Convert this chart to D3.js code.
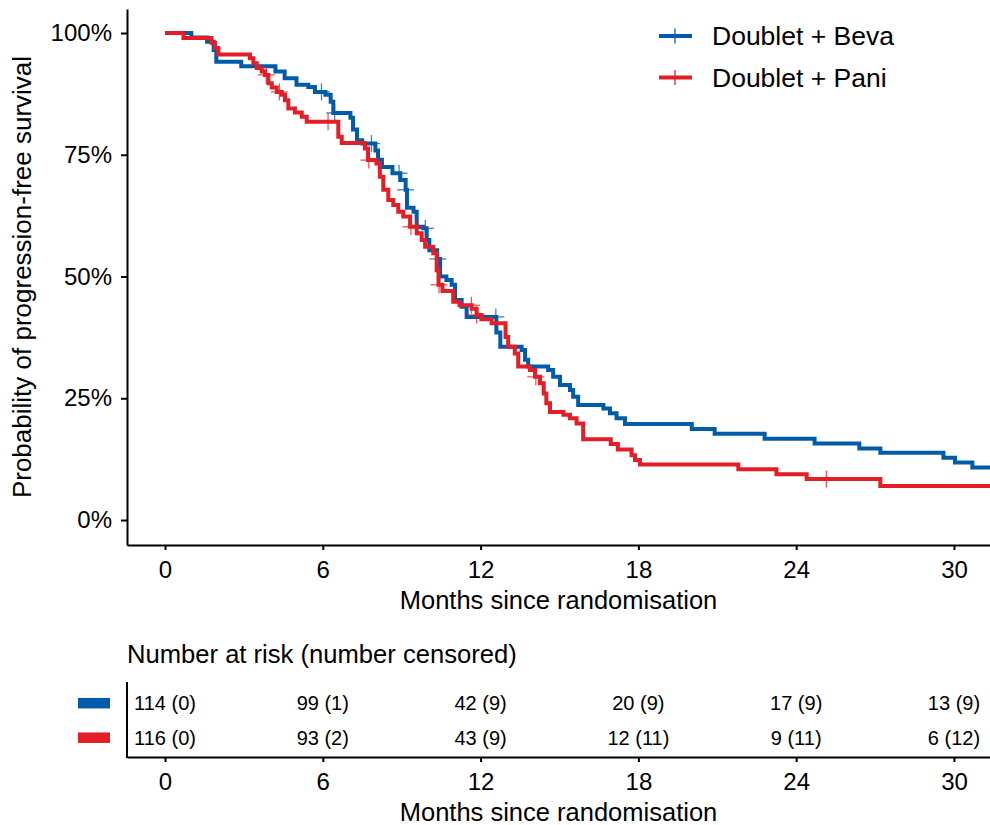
<!DOCTYPE html>
<html>
<head>
<meta charset="utf-8">
<script src="https://cdn.jsdelivr.net/npm/d3@7"></script>
<style>
  body { margin: 0; background: #fff; }
  svg { display: block; font-family: "Liberation Sans", Arial, sans-serif; }
</style>
</head>
<body>
<div id="chart"></div>
<script>
// ---- data ----------------------------------------------------------
const groups = ['Doublet + Beva', 'Doublet + Pani'];
const colours = ['#005BAB', '#E41E26'];

// [month, survival %] – value holds from that month onwards
const bevaSteps = [
  [0, 100], [1.0, 99.1], [1.6, 98.2], [1.85, 96.5], [1.95, 94.1], [2.9, 93.2],
  [4.2, 92.1], [4.55, 90.7], [5.0, 89.4], [5.45, 88.9], [5.7, 87.9], [6.1, 87.3],
  [6.3, 85.9], [6.4, 83.6], [7.05, 82.6], [7.15, 80.2], [7.3, 78.0], [7.5, 77.3],
  [8.0, 75.9], [8.1, 74.0], [8.25, 72.5], [8.65, 71.2], [8.95, 69.8], [9.15, 67.8],
  [9.2, 64.1], [9.45, 63.3], [9.57, 60.2], [9.82, 59.9], [9.95, 57.5], [10.05, 55.4],
  [10.35, 53.6], [10.46, 50.0], [10.7, 49.3], [10.9, 48.3], [11.03, 45.2], [11.28, 43.8],
  [11.47, 41.7], [12.6, 38.5], [12.75, 35.6], [13.56, 34.9], [13.69, 32.9], [13.81, 31.5],
  [14.57, 30.8], [14.76, 29.4], [15.02, 27.7], [15.4, 26.7], [15.52, 25.3], [15.71, 23.6],
  [16.67, 22.9], [16.92, 21.9], [17.17, 20.9], [17.49, 19.7], [20.03, 18.7], [20.9, 17.7],
  [22.8, 16.7], [24.7, 15.7], [26.4, 14.7], [27.2, 13.8], [29.6, 12.8], [30.04, 11.8],
  [30.7, 10.8], [31.4, 10.8]
];
const paniSteps = [
  [0, 100], [0.7, 99.0], [1.77, 98.0], [1.9, 96.9], [2.03, 95.6], [3.23, 94.8],
  [3.36, 93.8], [3.49, 92.8], [3.68, 92.1], [3.8, 91.4], [3.93, 89.7], [4.06, 88.8],
  [4.25, 87.9], [4.44, 87.3], [4.56, 86.2], [4.69, 84.5], [4.94, 83.7], [5.2, 82.8],
  [5.39, 81.8], [6.59, 78.7], [6.72, 77.4], [7.6, 76.3], [7.72, 73.9], [8.04, 73.2],
  [8.17, 70.5], [8.3, 67.8], [8.49, 65.7], [8.68, 64.7], [8.87, 63.3], [9.06, 62.3],
  [9.32, 60.2], [9.57, 58.9], [9.76, 57.5], [9.89, 56.1], [10.2, 54.8], [10.33, 51.3],
  [10.4, 48.3], [10.55, 47.0], [10.96, 44.8], [11.2, 44.1], [11.66, 43.4], [11.85, 42.1],
  [12.03, 41.2], [12.42, 40.4], [12.95, 37.6], [13.05, 35.6], [13.3, 34.2], [13.43, 31.5],
  [13.88, 30.8], [14.07, 29.4], [14.26, 28.1], [14.4, 26.0], [14.5, 24.0], [14.64, 22.2],
  [15.15, 21.6], [15.4, 20.9], [15.65, 19.8], [15.9, 16.6], [16.95, 15.6], [17.22, 14.5],
  [17.74, 13.3], [17.87, 12.3], [18.06, 11.4], [21.8, 10.4], [23.25, 9.4], [24.4, 8.4],
  [27.2, 7.0], [31.4, 7.0]
];
const bevaCensor = [5.95, 6.45, 7.85, 8.9, 9.15, 9.6, 9.9, 10.38, 12.58];
const paniCensor = [3.85, 4.35, 6.2, 7.75, 9.35, 9.55, 10.42, 11.65, 11.85, 14.1, 25.15];

const riskTimes = [0, 6, 12, 18, 24, 30];
const bevaRisk = ['114 (0)', '99 (1)', '42 (9)', '20 (9)', '17 (9)', '13 (9)'];
const paniRisk = ['116 (0)', '93 (2)', '43 (9)', '12 (11)', '9 (11)', '6 (12)'];

const yTicks = [0, 0.25, 0.5, 0.75, 1];
const xTitle = 'Months since randomisation';
const yTitle = 'Probability of progression-free survival';
const riskTitle = 'Number at risk (number censored)';

// ---- layout ---------------------------------------------------------
const W = 990, H = 825;
const svg = d3.select('#chart').append('svg')
    .attr('width', W)
    .attr('height', H);

const x = d3.scaleLinear().domain([-1.445, 31.37]).range([127, 990]);
const y = d3.scaleLinear().domain([-0.0513, 1.0493]).range([545, 9]);

function styleAxis(g, fs) {
  g.select('.domain').attr('stroke', '#000').attr('stroke-width', 2);
  g.selectAll('.tick line').attr('stroke', '#000').attr('stroke-width', 2);
  g.selectAll('.tick text').attr('fill', '#000').style('font-size', fs + 'px')
    .style('font-family', '"Liberation Sans", Arial, sans-serif');
}

// main axes
svg.append('g')
    .attr('transform', 'translate(0,545)')
    .call(d3.axisBottom(x).tickValues(riskTimes).tickSize(5).tickSizeOuter(0).tickPadding(11))
    .call(g => styleAxis(g, 24));

svg.append('g')
    .attr('transform', 'translate(127,0)')
    .call(d3.axisLeft(y).tickValues(yTicks).tickFormat(d3.format('.0%'))
      .tickSize(6).tickSizeOuter(0).tickPadding(9))
    .call(g => styleAxis(g, 24));

svg.append('text')
    .attr('x', (127 + 990) / 2).attr('y', 609)
    .attr('text-anchor', 'middle')
    .style('font-size', '25.5px')
    .text(xTitle);

svg.append('text')
    .attr('transform', 'translate(31,277) rotate(-90)')
    .attr('text-anchor', 'middle')
    .style('font-size', '26px')
    .text(yTitle);

// ---- curves ---------------------------------------------------------
const plot = svg.append('g');
svg.append('clipPath').attr('id', 'clip')
  .append('rect').attr('x', 127).attr('y', 0).attr('width', 863).attr('height', 545);
plot.attr('clip-path', 'url(#clip)');

const line = d3.line()
    .x(d => x(d[0]))
    .y(d => y(d[1] / 100))
    .curve(d3.curveStepAfter);

const series = [
  { steps: bevaSteps, censor: bevaCensor, colour: colours[0] },
  { steps: paniSteps, censor: paniCensor, colour: colours[1] }
];

const bis = d3.bisector(d => d[0]).right;
function survAt(steps, t) {
  return steps[Math.max(0, bis(steps, t) - 1)][1];
}

series.forEach(s => {
  plot.append('path')
      .datum(s.steps)
      .attr('fill', 'none')
      .attr('stroke', s.colour)
      .attr('stroke-width', 4)
      .attr('d', line);

  const marks = plot.append('g').selectAll('g')
    .data(s.censor)
    .join('g')
      .attr('transform', t => `translate(${x(t)},${y(survAt(s.steps, t) / 100)})`)
      .attr('stroke', s.colour)
      .attr('stroke-width', 1.3)
      .attr('opacity', 0.75);
  marks.append('line').attr('x1', -8.5).attr('x2', 8.5);
  marks.append('line').attr('y1', -8.5).attr('y2', 8.5);
});

// ---- legend ---------------------------------------------------------
const legend = svg.append('g')
  .selectAll('g')
  .data(groups)
  .join('g')
    .attr('transform', (d, i) => `translate(659,${36 + i * 41.5})`);
legend.append('line')
    .attr('x1', 0).attr('x2', 33)
    .attr('stroke', (d, i) => colours[i])
    .attr('stroke-width', 4);
legend.append('line')
    .attr('x1', 16).attr('x2', 16).attr('y1', -7.5).attr('y2', 7.5)
    .attr('stroke', (d, i) => colours[i])
    .attr('stroke-width', 1.3);
legend.append('text')
    .attr('x', 53).attr('dy', '0.35em')
    .style('font-size', '26.5px')
    .text(d => d);

// ---- number at risk table ------------------------------------------
svg.append('text')
    .attr('x', 127).attr('y', 663)
    .style('font-size', '25.6px')
    .text(riskTitle);

const rowY = d3.scaleBand().domain(groups).range([686, 755]);

svg.append('g')
    .attr('transform', 'translate(0,757)')
    .call(d3.axisBottom(x).tickValues(riskTimes).tickSize(5).tickSizeOuter(0).tickPadding(11))
    .call(g => styleAxis(g, 24));

svg.append('line')
    .attr('x1', 127).attr('x2', 127)
    .attr('y1', 682).attr('y2', 758)
    .attr('stroke', '#000').attr('stroke-width', 2);

svg.append('text')
    .attr('x', (127 + 990) / 2).attr('y', 821)
    .attr('text-anchor', 'middle')
    .style('font-size', '25.5px')
    .text(xTitle);

[bevaRisk, paniRisk].forEach((row, i) => {
  const cy = rowY(groups[i]) + rowY.bandwidth() / 2;
  svg.append('rect')
      .attr('x', 78).attr('y', cy - 5.3)
      .attr('width', 32).attr('height', 10.5)
      .attr('fill', colours[i]);
  svg.append('g').selectAll('text')
    .data(row)
    .join('text')
      .attr('x', (d, j) => x(riskTimes[j]))
      .attr('y', cy)
      .attr('dy', '0.35em')
      .attr('text-anchor', 'middle')
      .style('font-size', '20px')
      .text(d => d);
});
</script>
</body>
</html>
